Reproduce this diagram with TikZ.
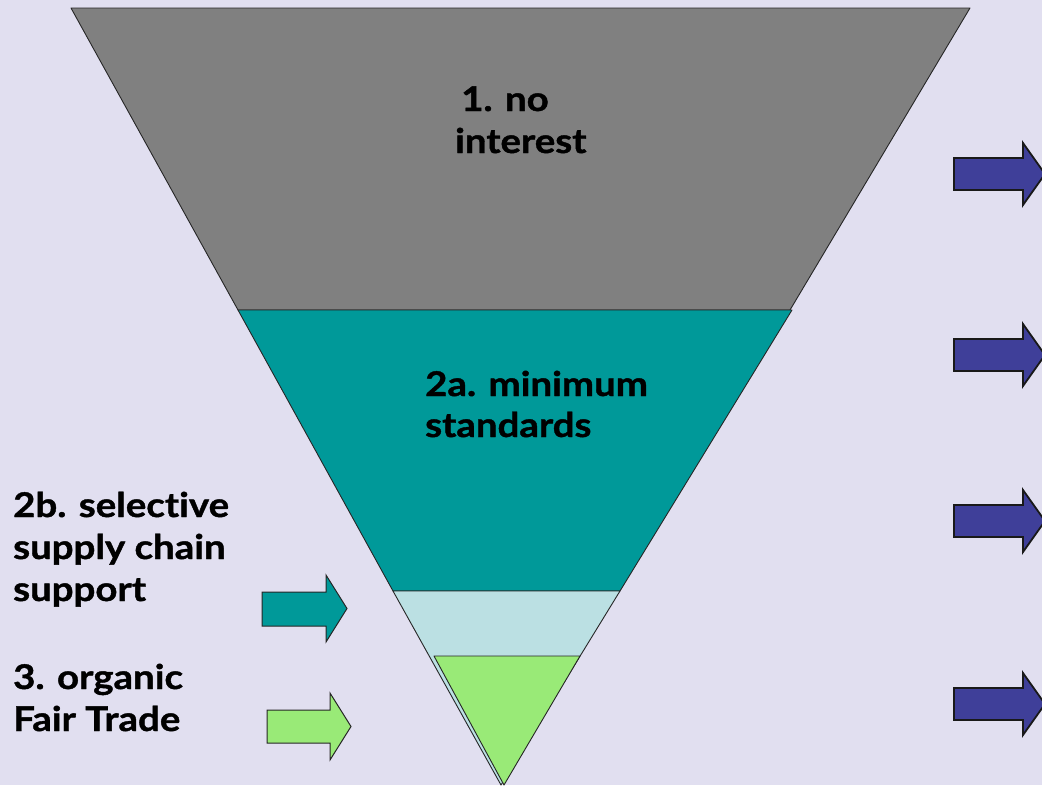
\documentclass[tikz,border=0pt]{standalone}
\usepackage{fontspec}
\setmainfont{Lato}[Ligatures=CommonOff,BoldFeatures={FakeStretch=1.13,FakeBold=1.2}]
\usetikzlibrary{calc}
\definecolor{bgc}{HTML}{E1DFF0}
\definecolor{grayc}{HTML}{808080}
\definecolor{tealc}{HTML}{009999}
\definecolor{lblue}{HTML}{BBE0E3}
\definecolor{greenc}{HTML}{99EA77}
\definecolor{bluec}{HTML}{3F3F99}
\tikzset{
  layer/.style={draw=black!85, line width=0.9pt, line join=round},
  lbl/.style={font=\fontsize{34}{42}\selectfont\bfseries, align=left, inner sep=0pt, anchor=base west, text=black},
  bigarrow/.style={draw=black!90, line width=1.8pt, fill=bluec},
  smallarrow/.style={draw=black!85, line width=1pt},
}
\begin{document}
\begin{tikzpicture}[x=1pt,y=-1pt]
\fill[bgc] (0,0) rectangle (1042,785);
\useasboundingbox (0,0) rectangle (1042,785);
% funnel layers
\draw[layer, fill=grayc] (71,8) -- (970,8) -- (790,310) -- (238,310) -- cycle;
\draw[layer, fill=tealc] (238,310) -- (792,310) -- (620,591) -- (393,591) -- cycle;
\draw[layer, fill=lblue] (393,591) -- (620,591) -- (501,785) -- cycle;
\draw[layer, fill=greenc] (434,656) -- (580,656) -- (504,785) -- cycle;
% labels
\node[lbl] (l1a) at (461,111) {1. no};
\node[lbl] (l1b) at (455,153) {interest};
\node[lbl] (l2a) at (425,396) {2a. minimum};
\node[lbl] (l2b) at (425,437) {standards};
\node[lbl] (l3a) at (13,517) {2b. selective};
\node[lbl] (l3b) at (13,559) {supply chain};
\node[lbl] (l3c) at (13,601) {support};
\node[lbl] (l4a) at (13,689) {3. organic};
\node[lbl] (l4b) at (13,731) {Fair Trade};
% right arrows
\foreach \yy/\nm in {174/ra, 355/rb, 521/rc, 704/rd}{
  \draw[bigarrow] (954,\yy-16) -- (1023,\yy-16) -- (1023,\yy-31) -- (1045,\yy) -- (1023,\yy+31) -- (1023,\yy+16) -- (954,\yy+16) -- cycle;
}
% left arrows
\draw[smallarrow, fill=tealc] (262,592) -- (326,592) -- (326,575) -- (347,608.5) -- (326,642) -- (326,626) -- (262,626) -- cycle;
\draw[smallarrow, fill=greenc] (267,710) -- (330,710) -- (330,693) -- (351,726.5) -- (330,760) -- (330,743) -- (267,743) -- cycle;
\end{tikzpicture}
\end{document}
